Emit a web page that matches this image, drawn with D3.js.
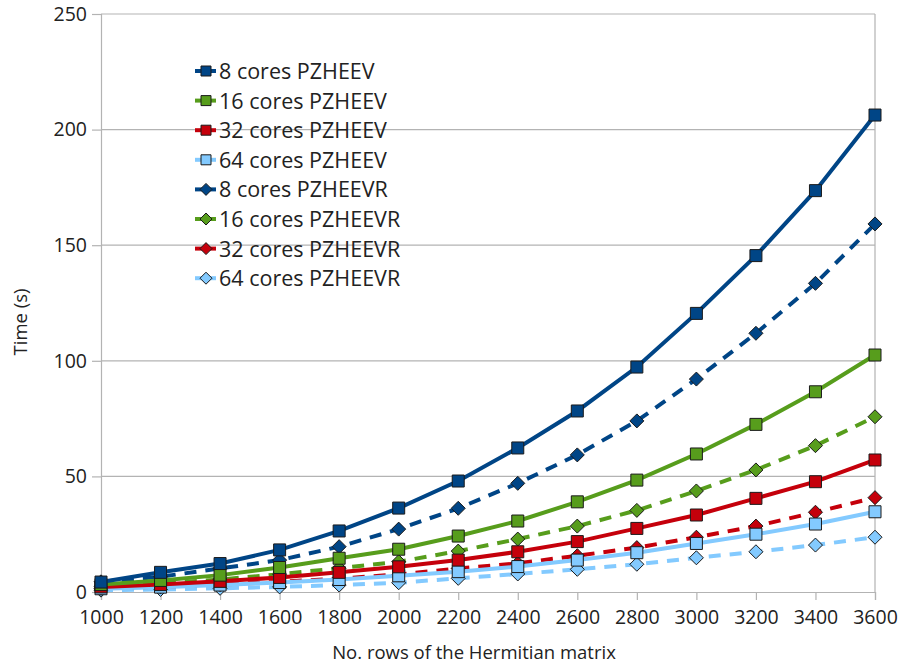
<!DOCTYPE html>
<html><head><meta charset="utf-8">
<script src="https://cdn.jsdelivr.net/npm/d3@7"></script>
<style>body{margin:0;background:#fff}svg{display:block}text{font-family:"Open Sans",sans-serif;fill:#222}</style>
</head><body><svg id="c" width="902" height="668"></svg>
<script>
const categories = [1000,1200,1400,1600,1800,2000,2200,2400,2600,2800,3000,3200,3400,3600];
const yTicks = [0,50,100,150,200,250];
const seriesNames = ["8 cores PZHEEV","16 cores PZHEEV","32 cores PZHEEV","64 cores PZHEEV","8 cores PZHEEVR","16 cores PZHEEVR","32 cores PZHEEVR","64 cores PZHEEVR"];
const seriesColors = ["#004586","#579d1c","#c5000b","#83caff","#004586","#579d1c","#c5000b","#83caff"];
const seriesMarkers = ["square","square","square","square","diamond","diamond","diamond","diamond"];
const seriesDashed = [false,false,false,false,true,true,true,true];
const v8 = [4.3,8.5,12.3,18.2,26.4,36.3,48.0,62.3,78.3,97.3,120.5,145.5,173.6,206.3];
const v16 = [3.2,5.0,7.3,10.6,14.6,18.5,24.2,30.7,39.0,48.4,59.7,72.5,86.6,102.5];
const v32 = [2.2,3.2,4.6,6.3,8.5,10.9,13.8,17.4,21.8,27.5,33.3,40.5,47.7,57.1];
const v64 = [1.4,2.1,3.0,4.1,5.4,7.0,8.8,11.0,13.8,17.0,21.0,25.0,29.4,34.7];
const v8r = [4.4,6.6,10.2,13.8,19.6,27.2,36.2,47.0,59.3,74.0,92.1,111.9,133.5,159.2];
const v16r = [2.5,3.7,5.4,7.7,10.3,13.1,17.7,22.9,28.5,35.3,43.7,52.8,63.3,75.8];
const v32r = [1.6,2.3,3.2,4.4,5.8,7.6,10.2,12.4,15.7,19.2,23.7,28.5,34.5,40.8];
const v64r = [0.8,1.1,1.6,2.2,3.0,4.0,5.9,7.8,9.8,12.0,14.8,17.4,20.3,23.7];
const values = [v8,v16,v32,v64,v8r,v16r,v32r,v64r];

const svg = d3.select("#c");
const L=101,R=875,T=14,B=592;
const x = d3.scalePoint().domain(categories).range([L,R]);
const y = d3.scaleLinear().domain([0,250]).range([B,T]);
const grid="#b3b3b3";

svg.append("g").selectAll("line").data(yTicks.filter(d=>d>0)).join("line")
  .attr("x1",L).attr("x2",R).attr("y1",d=>y(d)).attr("y2",d=>y(d))
  .attr("stroke",grid).attr("stroke-width",1.2);
svg.append("line").attr("x1",R).attr("x2",R).attr("y1",T).attr("y2",B).attr("stroke",grid).attr("stroke-width",1.2);

const ya = svg.append("g").attr("transform",`translate(${L},0)`)
  .call(d3.axisLeft(y).tickValues(yTicks).tickSize(9).tickPadding(5));
const xa = svg.append("g").attr("transform",`translate(0,${B})`)
  .call(d3.axisBottom(x).tickSize(8).tickPadding(10).tickFormat(d3.format("d")));
[ya,xa].forEach(a=>{
  a.select(".domain").attr("stroke",grid).attr("stroke-width",1.2);
  a.selectAll(".tick line").attr("stroke",grid).attr("stroke-width",1.2);
  a.selectAll(".tick text").attr("font-size",19.5).attr("fill","#222").style("font-family","'Open Sans',sans-serif");
});

svg.append("text").attr("transform","translate(27,322) rotate(-90)").attr("text-anchor","middle")
  .attr("font-size",18.5).text("Time (s)");
svg.append("text").attr("x",474).attr("y",659).attr("text-anchor","middle")
  .attr("font-size",18.5).text("No. rows of the Hermitian matrix");

const sqPath = s => `M${-s},${-s}H${s}V${s}H${-s}Z`;
const dmPath = s => `M0,${-s}L${s},0L0,${s}L${-s},0Z`;
const line = d3.line().x((d,i)=>x(categories[i])).y(d=>y(d));

const order = [7,6,5,4,3,2,1,0];
order.forEach(k=>{
  const g = svg.append("g");
  g.append("path").datum(values[k]).attr("d",line).attr("fill","none")
    .attr("stroke",seriesColors[k]).attr("stroke-width",4)
    .attr("stroke-dasharray",seriesDashed[k]?"12,9":null);
  g.selectAll("path.m").data(values[k]).join("path").attr("class","m")
    .attr("transform",(d,i)=>`translate(${x(categories[i])},${y(d)})`)
    .attr("d",seriesMarkers[k]==="square"?sqPath(6):dmPath(7))
    .attr("fill",seriesColors[k]).attr("stroke","#1a1a1a").attr("stroke-width",1);
});

const lg = svg.append("g").attr("transform","translate(195,71)");
seriesNames.forEach((n,k)=>{
  const row = lg.append("g").attr("transform",`translate(0,${k*29.6})`);
  row.append("line").attr("x1",0).attr("x2",21).attr("y1",0).attr("y2",0)
    .attr("stroke",seriesColors[k]).attr("stroke-width",4);
  row.append("path").attr("transform","translate(11,0)")
    .attr("d",seriesMarkers[k]==="square"?sqPath(5):dmPath(6))
    .attr("fill",seriesColors[k]).attr("stroke","#1a1a1a").attr("stroke-width",1);
  row.append("text").attr("x",24).attr("y",8).attr("font-size",21.5).text(n);
});
</script></body></html>
